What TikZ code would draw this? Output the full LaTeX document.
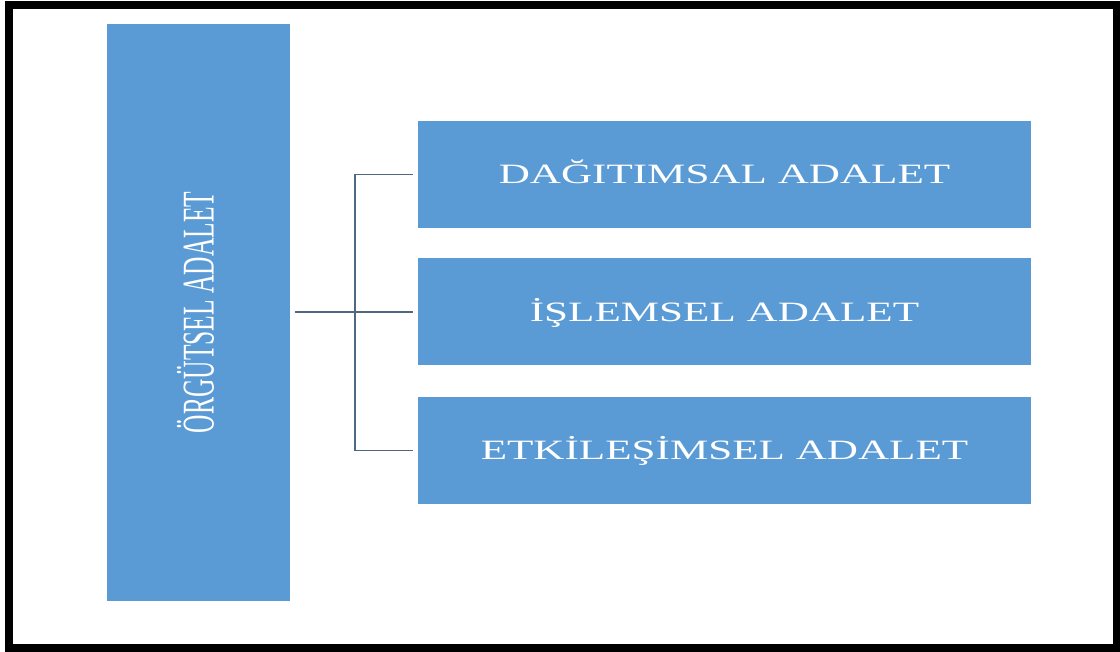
\documentclass[tikz,border=0pt]{standalone}
\usepackage{fontspec}
\setmainfont{Liberation Serif}
\definecolor{boxblue}{HTML}{5B9BD5}
\definecolor{linkgray}{HTML}{4F6781}
\begin{document}
\begin{tikzpicture}[x=1pt,y=-1pt,
  blockbox/.style={fill=boxblue, draw=none, inner sep=0pt},
  wordtext/.style={text=white, font=\fontsize{28pt}{30pt}\selectfont,
    text height=18.5pt, text depth=0pt, inner sep=0pt},
  dimbox/.style={blockbox, wordtext, minimum width=613pt, minimum height=107pt},
  hlink/.style={draw=linkgray, line width=1.9pt},
  vlink/.style={draw=linkgray, line width=2.8pt}]
  \useasboundingbox (0,0) rectangle (1120,652);
  \fill[white] (0,0) rectangle (1120,652);
  % outer frame
  \draw[line width=8pt, black] (9,5) rectangle (1117,647.5);

  % main concept
  \node[blockbox, minimum width=183pt, minimum height=577pt] (root) at (198.5,312.5) {};
  \node[wordtext, rotate=90, text height=30pt] (rootlabel) at (root.center)
    {\scalebox{0.91}[1.62]{ÖRGÜTSEL ADALET}};

  % sub-dimensions
  \node[dimbox] (d1) at (724.5,174.5) {\scalebox{1.54}[1]{DAĞITIMSAL ADALET}};
  \node[dimbox] (d2) at (724.5,312)   {\scalebox{1.54}[1]{İŞLEMSEL ADALET}};
  \node[dimbox] (d3) at (724.5,450.5) {\scalebox{1.54}[1]{ETKİLEŞİMSEL ADALET}};

  % bracket connector
  \coordinate (j) at (355,312);
  \draw[hlink, shorten <=5pt, shorten >=5pt] (root.east |- j) -- (d2.west |- j);
  \draw[vlink] (j |- d1.west) -- (j |- d3.west);
  \draw[hlink, shorten >=5pt] (j |- d1.west) -- (d1.west);
  \draw[hlink, shorten >=5pt] (j |- d3.west) -- (d3.west);
\end{tikzpicture}
\end{document}
